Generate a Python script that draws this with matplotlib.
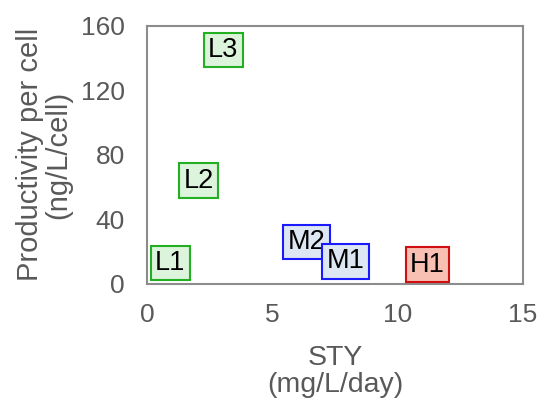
import matplotlib.pyplot as plt

plt.rcParams['font.family'] = ['Liberation Sans', 'DejaVu Sans']

labels = ['L1', 'L2', 'L3', 'M2', 'M1', 'H1']
sty = [0.93, 2.06, 3.04, 6.36, 7.93, 11.19]
prod = [13, 64, 145, 26, 14, 12]
groups = ['L', 'L', 'L', 'M', 'M', 'H']

edge = {'L': '#22b022', 'M': '#1a1aff', 'H': '#d01010'}
face = {'L': '#dcf3dc', 'M': '#dde7f3', 'H': '#f8c0b2'}
grey = '#595959'

fig = plt.figure(figsize=(5.37, 4.01), dpi=100)
ax = fig.add_axes([0.2737, 0.2918, 0.700, 0.644])

for lab, x, y, g in zip(labels, sty, prod, groups):
    ax.text(x, y, lab, ha='center', va='center', fontsize=19.5, color='black',
            bbox=dict(boxstyle='square,pad=0.16', fc=face[g], ec=edge[g], lw=1.5))

ax.set_xlim(0, 15)
ax.set_ylim(0, 160)
ax.set_xticks([0, 5, 10, 15])
ax.set_yticks([0, 40, 80, 120, 160])
ax.tick_params(length=0, labelsize=19, colors=grey)
ax.tick_params(axis='x', pad=14)
ax.tick_params(axis='y', pad=16)
for s in ax.spines.values():
    s.set_color('#8c8c8c')
    s.set_linewidth(1.5)

ax.set_xlabel('STY\n(mg/L/day)', fontsize=20.5, color=grey, labelpad=13, linespacing=1.05)
ax.set_ylabel('Productivity per cell\n(ng/L/cell)', fontsize=21, color=grey, labelpad=6, linespacing=1.0)

fig.savefig('out.png', dpi=100)
